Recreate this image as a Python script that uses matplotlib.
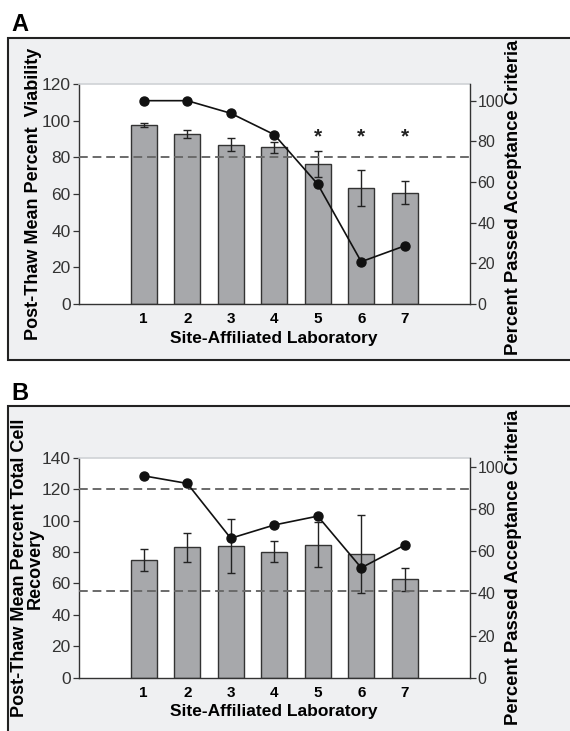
import matplotlib
matplotlib.use("Agg")
import matplotlib.pyplot as plt
from matplotlib.patches import Rectangle
import numpy as np

plt.rcParams['font.family'] = ['Liberation Sans', 'DejaVu Sans']

labs = [1, 2, 3, 4, 5, 6, 7]

# Panel A
via_mean = [97.6, 92.6, 87.0, 85.4, 76.3, 63.2, 60.8]
via_err = [1.0, 2.2, 3.8, 3.0, 7.0, 9.8, 6.5]
via_pass = [100, 100, 93.8, 83.3, 58.9, 20.8, 28.6]
via_thresh = [80]
via_star = [5, 6, 7]

# Panel B
rec_mean = [74.9, 82.9, 83.9, 80.3, 84.7, 78.8, 62.5]
rec_err = [6.8, 9.2, 17.0, 6.9, 14.2, 25.0, 7.6]
rec_pass = [95.7, 92.1, 66.1, 72.4, 76.6, 52.1, 62.9]
rec_thresh = [120, 55]

W, H = 570, 731
fig = plt.figure(figsize=(W / 100, H / 100), dpi=100)

panel_bg = '#eff0f2'
bar_fc = '#a7a8ab'
dark = '#222222'

def fx(px):
    return px / W

def fy(py):
    return 1 - py / H

# panel boxes
fig.patches.append(Rectangle((fx(8), fy(360)), 1.0, (360 - 38) / H, transform=fig.transFigure,
                             facecolor=panel_bg, edgecolor=dark, lw=1.5, zorder=-10))
fig.patches.append(Rectangle((fx(8), fy(745)), 1.0, (745 - 406.5) / H, transform=fig.transFigure,
                             facecolor=panel_bg, edgecolor=dark, lw=1.5, zorder=-10))

fig.text(fx(11), fy(31), 'A', fontsize=17, fontweight='bold', ha='left', va='baseline')
fig.text(fx(11), fy(400), 'B', fontsize=17, fontweight='bold', ha='left', va='baseline')


def make_panel(top_px, mean, err, passed, thresh, ymax, yticks, rmax, stars=None):
    ax = fig.add_axes([fx(78.5), fy(top_px + 220), (470 - 78.5) / W, 220 / H], zorder=1)
    ax.set_facecolor('white')
    x = np.array(labs)
    ax.bar(x, mean, width=0.6, color=bar_fc, edgecolor='#333333', linewidth=1.0, zorder=2)
    ax.errorbar(x, mean, yerr=err, fmt='none', ecolor='#222222', elinewidth=1.0,
                capsize=3.2, capthick=1.0, zorder=3)
    for t in thresh:
        ax.axhline(t, color='#6a6a6a', linestyle=(0, (4.5, 2.5)), linewidth=1.4, zorder=4)
    if stars:
        for s in stars:
            ax.text(s, 91.0, '*', ha='center', va='center', fontsize=15, fontweight='bold',
                    color=dark, zorder=5)
    ax.set_xlim(-0.5, 8.5)
    ax.set_ylim(0, ymax)
    ax.set_yticks(yticks)
    ax.set_yticklabels([str(v) for v in yticks], fontsize=12.5, color='#333333')
    ax.set_xticks(x)
    ax.set_xticklabels([str(v) for v in labs], fontsize=11, fontweight='bold')
    ax.tick_params(axis='x', length=0, pad=6)
    ax.tick_params(axis='y', length=4, width=0.9, pad=1.5, color='#333333')
    for s in ['left', 'bottom']:
        ax.spines[s].set_color('#333333')
        ax.spines[s].set_linewidth(1.0)
    ax.spines['top'].set_color('#cfd2d6')
    ax.spines['top'].set_linewidth(1.2)
    ax.spines['right'].set_visible(False)
    ax.set_xlabel('Site-Affiliated Laboratory', fontsize=12.5, fontweight='bold', labelpad=3)

    ax2 = ax.twinx()
    ax2.patch.set_visible(False)
    ax2.plot(x, passed, color='#111111', linewidth=1.2, marker='o', markersize=6.5, zorder=6)
    ax2.set_ylim(0, rmax)
    ax2.set_yticks([0, 20, 40, 60, 80, 100])
    ax2.set_yticklabels(['0', '20', '40', '60', '80', '100'], fontsize=11.5, color='#333333')
    ax2.tick_params(axis='y', length=4, width=0.9, pad=1.5, color='#333333')
    ax2.spines['right'].set_color('#333333')
    ax2.spines['right'].set_linewidth(1.0)
    for s in ['top', 'left', 'bottom']:
        ax2.spines[s].set_visible(False)
    return ax, ax2


axA, axA2 = make_panel(84, via_mean, via_err, via_pass, via_thresh, 120,
                       [0, 20, 40, 60, 80, 100, 120], 108.2, stars=via_star)
axB, axB2 = make_panel(457.7, rec_mean, rec_err, rec_pass, rec_thresh, 140,
                       [0, 20, 40, 60, 80, 100, 120, 140], 104.3)

fig.text(fx(34), fy(194), 'Post-Thaw Mean Percent  Viability', rotation=90, fontsize=13,
         fontweight='bold', ha='center', va='center')
fig.text(fx(513), fy(197), 'Percent Passed Acceptance Criteria', rotation=90, fontsize=13.3,
         fontweight='bold', ha='center', va='center')
fig.text(fx(27), fy(568), 'Post-Thaw Mean Percent Total Cell\nRecovery', rotation=90, fontsize=13,
         fontweight='bold', ha='center', va='center', linespacing=0.9)
fig.text(fx(513), fy(567), 'Percent Passed Acceptance Criteria', rotation=90, fontsize=13.3,
         fontweight='bold', ha='center', va='center')

fig.savefig('out.png', dpi=100)
